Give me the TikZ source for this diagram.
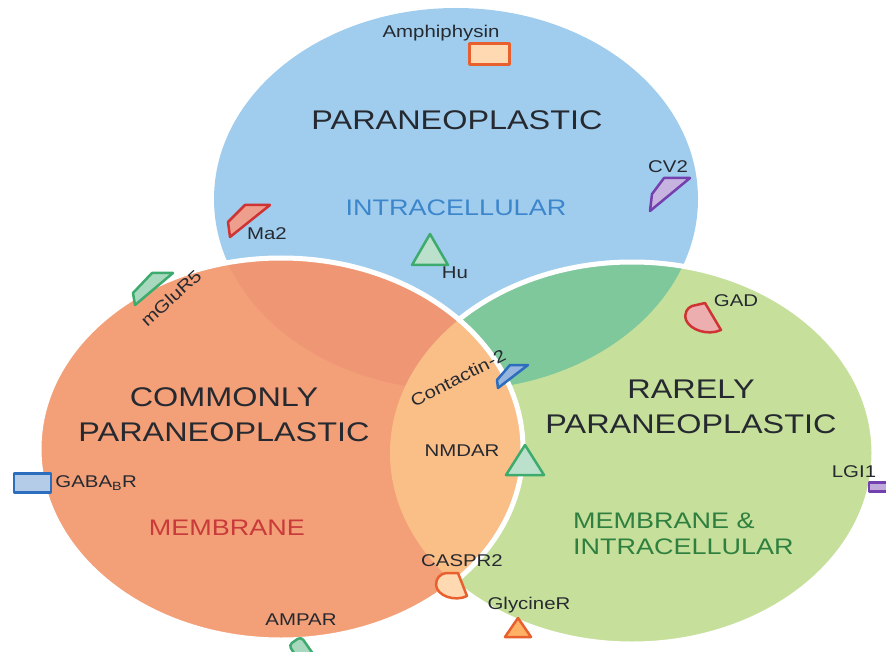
\documentclass[tikz,border=0pt]{standalone}
\usepackage{fontspec}
\setmainfont{Liberation Sans}
\newfontfamily\wideface{Liberation Sans}[FakeStretch=1.2]
\usepackage{tikz}
\usetikzlibrary{positioning}
\definecolor{parablue}{HTML}{A0CDEE}
\definecolor{commonorange}{HTML}{F3A078}
\definecolor{overorange}{HTML}{EF9775}
\definecolor{rarelygreen}{HTML}{C6E09B}
\definecolor{overgreen}{HTML}{7EC89C}
\definecolor{peach}{HTML}{FABE87}
\definecolor{textdark}{HTML}{262A30}
\definecolor{intrablue}{HTML}{3D86CC}
\definecolor{membred}{HTML}{C93A3A}
\definecolor{mixgreen}{HTML}{2F8040}
\definecolor{mkorange}{HTML}{E8602E}
\definecolor{mkgreen}{HTML}{3DAA6E}
\definecolor{mkred}{HTML}{CF3434}
\definecolor{mkblue}{HTML}{2D6DBE}
\definecolor{mkpurple}{HTML}{7440AE}

\begin{document}
\begin{tikzpicture}[x=1pt, y=-1pt,
  venn/.style={x radius=242, y radius=191},
  title/.style={font=\wideface\fontsize{27}{35}\selectfont, text=textdark, align=center, inner sep=0pt},
  subtitle/.style={font=\wideface\fontsize{22.5}{26}\selectfont, inner sep=0pt},
  tag/.style={font=\wideface\fontsize{17}{19}\selectfont, text=textdark, inner sep=0pt},
  marker/.style={line width=2.5pt, line join=round}
]
  \useasboundingbox[fill=white] (0,0) rectangle (886,652);
  \coordinate (pc) at (456,199);
  \coordinate (oc) at (281,449);
  \coordinate (gc) at (632,453);

  % circles
  \fill[parablue] (pc) ellipse [venn];
  \fill[rarelygreen] (gc) ellipse [venn];
  \begin{scope}
    \clip (pc) ellipse [venn];
    \fill[overgreen] (gc) ellipse [venn];
  \end{scope}
  \draw[white, line width=5pt] (gc) ellipse [venn];
  \fill[commonorange] (oc) ellipse [venn];
  \begin{scope}
    \clip (pc) ellipse [venn];
    \fill[overorange] (oc) ellipse [venn];
  \end{scope}
  \begin{scope}
    \clip (gc) ellipse [venn];
    \fill[peach] (oc) ellipse [venn];
  \end{scope}
  \draw[white, line width=5pt] (oc) ellipse [venn];

  % group titles
  \node[title] (paratitle) at (457,120) {PARANEOPLASTIC};
  \node[subtitle, text=intrablue] (intra) at (456,208) {INTRACELLULAR};
  \node[title] (commontitle) at (224,415) {COMMONLY\\PARANEOPLASTIC};
  \node[subtitle, text=membred] (memb) at (227,528) {MEMBRANE};
  \node[title] (rarelytitle) at (691,407) {RARELY\\PARANEOPLASTIC};
  \node[subtitle, text=mixgreen, align=left, anchor=west] (membintra) at (573,534) {MEMBRANE \&\\INTRACELLULAR};

  % markers
  \node[marker, draw=mkorange, fill=orange!30!white, minimum width=40pt, minimum height=21pt, line width=3pt] (amph) at (489.5,54) {};
  \draw[marker, draw=mkpurple, fill=mkpurple!40!white] (650,211) -- (652,194) -- (664,178) -- (690,178) -- cycle;
  \draw[marker, draw=mkred, fill=mkred!40!commonorange!70!white] (228,222) -- (245,205) -- (270,205) -- (230,237) -- cycle;
  \draw[marker, draw=mkgreen, fill=mkgreen!35!white] (430,234) -- (448,265) -- (412,265) -- cycle;
  \draw[marker, draw=mkgreen, fill=mkgreen!45!white] (133,293) -- (152,273) -- (173,273) -- (135,305) -- cycle;
  \node[marker, draw=mkblue, fill=mkblue!35!white, minimum width=37pt, minimum height=19pt] (gabab) at (32.5,483) {};
  \node[marker, draw=mkgreen, fill=mkgreen!45!white, rounded corners=4pt, minimum width=15pt, minimum height=32pt, rotate=35] (ampa) at (304,654) {};
  \draw[marker, draw=mkblue, fill=mkblue!50!white] (497,380) -- (510,365) -- (528,365) -- (498,388) -- cycle;
  \draw[marker, draw=mkgreen, fill=mkgreen!35!white] (525,445) -- (544,475) -- (506,475) -- cycle;
  \draw[marker, draw=mkorange, fill=orange!30!white] (446,573) -- (458,573) -- (467,596)
    .. controls (455,602) and (437,596) .. (436,585) .. controls (436,578) and (440,574) .. (446,573);
  \draw[marker, draw=mkorange, fill=orange!60!white] (518,618) -- (531,637) -- (505,637) -- cycle;
  \draw[marker, draw=mkred, fill=mkred!40!white] (692,306) -- (705,303) -- (721,330)
    .. controls (708,336) and (690,330) .. (686,320) .. controls (684,313) and (687,308) .. (692,306);
  \node[marker, draw=mkpurple, fill=mkpurple!45!white, minimum width=26pt, minimum height=9pt] (lgi) at (882,487) {};

  % marker labels
  \node[tag] (amphtxt) at (441,33) {Amphiphysin};
  \node[tag] (cvtxt) at (668,167) {CV2};
  \node[tag] (matxt) at (267,234) {Ma2};
  \node[tag] (hutxt) at (455,273) {Hu};
  \node[tag, rotate=42] (mglutxt) at (171,298) {mGluR5};
  \node[tag, right=3pt of gabab] (gababtxt) {GABA\textsubscript{B}R};
  \node[tag] (ampatxt) at (301,620) {AMPAR};
  \node[tag, rotate=27] (contxt) at (458,378) {Contactin-2};
  \node[tag] (nmdatxt) at (462,451) {NMDAR};
  \node[tag] (casprtxt) at (462,561) {CASPR2};
  \node[tag] (glytxt) at (529,605) {GlycineR};
  \node[tag] (gadtxt) at (736,301) {GAD};
  \node[tag] (lgitxt) at (854,472) {LGI1};
\end{tikzpicture}
\end{document}
